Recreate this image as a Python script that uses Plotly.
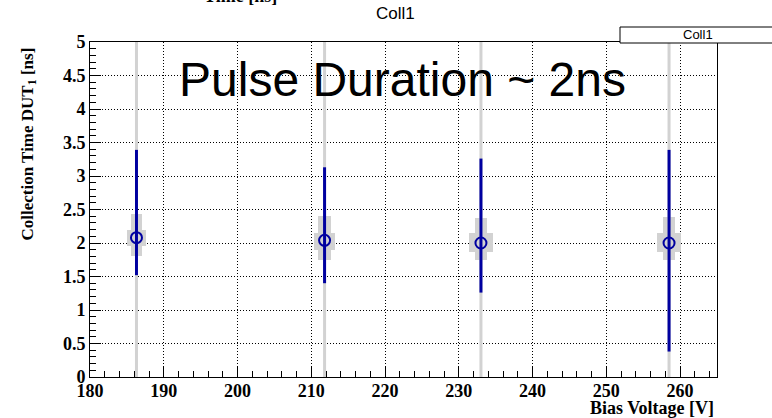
import plotly.graph_objects as go

# ---- data ----
bias_v = [186.3, 211.8, 233.0, 258.5]
coll_time = [2.08, 2.04, 2.00, 2.00]
stat_hi = [3.39, 3.13, 3.26, 3.39]
stat_lo = [1.52, 1.40, 1.26, 0.38]
sys_narrow_hi = [2.43, 2.40, 2.38, 2.39]
sys_narrow_lo = [1.80, 1.75, 1.75, 1.75]
sys_wide_hi = [2.20, 2.15, 2.15, 2.15]
sys_wide_lo = [1.95, 1.90, 1.86, 1.86]
narrow_width = [1.5, 1.7, 1.6, 1.6]
wide_width = [2.7, 2.85, 3.2, 3.2]

x_range = [180, 265]
y_range = [0, 5]

BLUE = "#0000a0"
GREY = "#d2d2d2"
SERIF = "Liberation Serif"
SANS = "Liberation Sans"

fig = go.Figure()

# full-height grey guide lines at each voltage
gx, gy = [], []
for v in bias_v:
    gx += [v, v, None]
    gy += [y_range[0], y_range[1], None]

# grey systematic boxes (narrow/tall and wide/short)
fig.add_trace(go.Bar(
    x=bias_v, base=sys_narrow_lo,
    y=[h - l for h, l in zip(sys_narrow_hi, sys_narrow_lo)],
    width=narrow_width, marker=dict(color=GREY, line=dict(width=0)),
    showlegend=False, hoverinfo="skip"))
fig.add_trace(go.Bar(
    x=bias_v, base=sys_wide_lo,
    y=[h - l for h, l in zip(sys_wide_hi, sys_wide_lo)],
    width=wide_width, marker=dict(color=GREY, line=dict(width=0)),
    showlegend=False, hoverinfo="skip"))

fig.add_trace(go.Scatter(
    x=gx, y=gy, mode="lines", line=dict(color=GREY, width=3),
    showlegend=False, hoverinfo="skip"))

# points with statistical error bars
fig.add_trace(go.Scatter(
    x=bias_v, y=coll_time, mode="markers", name="Coll1",
    marker=dict(symbol="circle-open", size=11, color=BLUE,
                line=dict(color=BLUE, width=2)),
    error_y=dict(type="data", symmetric=False,
                 array=[h - y for h, y in zip(stat_hi, coll_time)],
                 arrayminus=[y - l for y, l in zip(coll_time, stat_lo)],
                 color=BLUE, thickness=3, width=0),
    showlegend=False))

axis_common = dict(
    showline=True, linecolor="black", linewidth=1, mirror=True,
    ticks="inside", ticklen=11, tickwidth=1, tickcolor="black",
    showgrid=True, gridcolor="black", griddash="1px,2px", gridwidth=1,
    zeroline=False, tickprefix="<b>", ticksuffix="</b>",
    tickfont=dict(family=SERIF, size=18, color="black"),
)

fig.update_xaxes(range=x_range, dtick=10, tick0=180, ticklabelstandoff=-3,
                 minor=dict(dtick=2, ticks="inside", ticklen=6,
                            tickcolor="black", showgrid=False),
                 **axis_common)
fig.update_yaxes(range=y_range, dtick=0.5, tick0=0,
                 minor=dict(dtick=0.1, ticks="inside", ticklen=6,
                            tickcolor="black", showgrid=False),
                 **axis_common)

W, H = 772, 418
L, R, T, B = 90, 55, 42, 41
pw, ph = W - L - R, H - T - B


def px(xp):
    return (xp - L) / pw


def py(yp):
    return (H - B - yp) / ph


annotations = [
    dict(text="Coll1", x=px(395), y=py(13), xref="paper", yref="paper",
         xanchor="center", yanchor="middle", showarrow=False,
         font=dict(family=SANS, size=17, color="black")),
    dict(text="<b>Time [ns]</b>", x=px(240), y=py(8), xref="paper", yref="paper",
         xanchor="center", yanchor="bottom", showarrow=False,
         font=dict(family=SERIF, size=18, color="black")),
    dict(text="Pulse Duration ~ 2ns", x=px(177), y=py(80), xref="paper", yref="paper",
         xanchor="left", yanchor="middle", showarrow=False,
         font=dict(family=SANS, size=48, color="black")),
    dict(text="<b>Collection Time DUT<sub>1</sub> [ns]</b>", x=px(28), y=py(46),
         xref="paper", yref="paper", xanchor="center", yanchor="top",
         textangle=-90, showarrow=False,
         font=dict(family=SERIF, size=17, color="black")),
    dict(text="<b>Bias Voltage [V]</b>", x=px(716), y=py(408),
         xref="paper", yref="paper", xanchor="right", yanchor="middle",
         showarrow=False, font=dict(family=SERIF, size=18, color="black")),
    dict(text="Coll1", x=px(698), y=py(35), xref="paper", yref="paper",
         xanchor="center", yanchor="middle", showarrow=False,
         font=dict(family=SANS, size=13, color="black")),
]

shapes = [
    dict(type="rect", xref="paper", yref="paper",
         x0=px(620), x1=px(800), y0=py(43), y1=py(27),
         line=dict(color="black", width=1), fillcolor="white", layer="above"),
]

fig.update_layout(
    width=W, height=H,
    margin=dict(l=L, r=R, t=T, b=B, pad=0),
    paper_bgcolor="white", plot_bgcolor="white",
    barmode="overlay", bargap=0,
    showlegend=False,
    annotations=annotations, shapes=shapes,
)

fig.write_html("out.html")
